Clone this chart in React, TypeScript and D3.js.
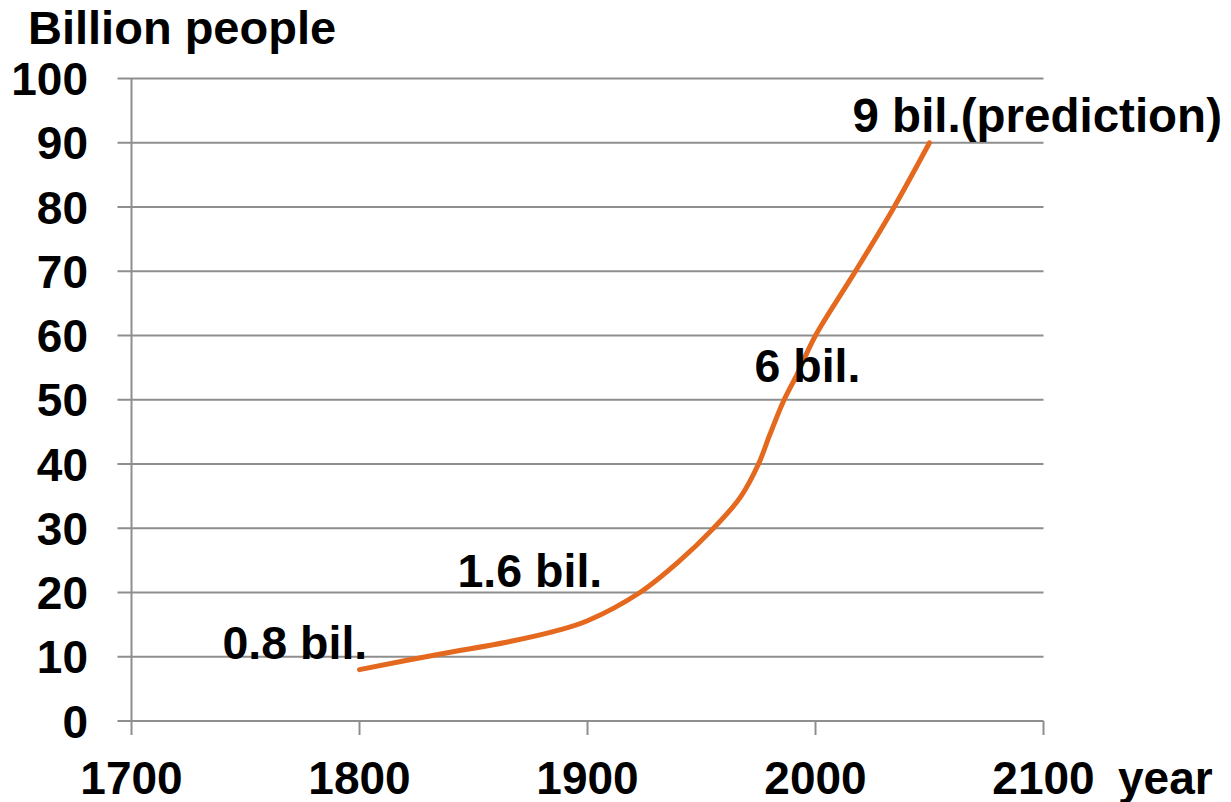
import React from "react";
import * as d3 from "d3";

// World population over time (axis units: 100 million people)
const years: number[] = [1800, 1835, 1865, 1887, 1900, 1923, 1940, 1955, 1967, 1975, 1980, 1986, 1992, 2000, 2017, 2034, 2050];
const population: number[] = [8, 10.4, 12.3, 14.1, 15.6, 20, 24.8, 29.9, 34.8, 40, 44.6, 49.8, 54, 60, 69.7, 79.7, 90];

const xTicks: number[] = [1700, 1800, 1900, 2000, 2100];
const yTicks: number[] = [0, 10, 20, 30, 40, 50, 60, 70, 80, 90, 100];

const annotations: { text: string; year: number; value: number }[] = [
  { text: "0.8 bil.", year: 1800, value: 8 },
  { text: "1.6 bil.", year: 1900, value: 16 },
  { text: "6 bil.", year: 2000, value: 60 },
  { text: "9 bil.(prediction)", year: 2050, value: 90 },
];

const W = 1231;
const H = 802;
const left = 131.5;
const right = 1043.5;
const top = 78.5;
const bottom = 721;

const FONT = "'Liberation Sans', Arial, Helvetica, sans-serif";
const GRID = "#8e8e8e";
const LINE = "#E4691E";

export default function App() {
  const x = d3.scaleLinear().domain([1700, 2100]).range([left, right]);
  const y = d3.scaleLinear().domain([0, 100]).range([bottom, top]);

  const pts: [number, number][] = years.map((yr, i) => [yr, population[i]]);
  const line = d3
    .line<[number, number]>()
    .x((d) => x(d[0]))
    .y((d) => y(d[1]))
    .curve(d3.curveCatmullRom.alpha(0.5));

  // label placement offsets relative to the annotated point
  const labelPos: Record<string, { dx: number; dy: number; size: number }> = {
    "0.8 bil.": { dx: -137, dy: -11, size: 46.5 },
    "1.6 bil.": { dx: -130, dy: -31, size: 46.5 },
    "6 bil.": { dx: -61, dy: 46, size: 46.5 },
    "9 bil.(prediction)": { dx: -77, dy: -11, size: 47.5 },
  };

  return (
    <svg
      width={W}
      height={H}
      viewBox={`0 0 ${W} ${H}`}
      style={{ position: "absolute", left: 0, top: 0, background: "#fff" }}
    >
      <rect x={0} y={0} width={W} height={H} fill="#fff" />
      <g fontFamily={FONT} fontWeight="bold" fill="#000">
        {/* horizontal gridlines */}
        {yTicks.map((t) => (
          <line
            key={"g" + t}
            x1={left - 14}
            x2={right}
            y1={y(t)}
            y2={y(t)}
            stroke={GRID}
            strokeWidth={2}
          />
        ))}
        {/* y axis line */}
        <line x1={left} x2={left} y1={top} y2={bottom + 14} stroke={GRID} strokeWidth={2} />
        {/* x tick marks */}
        {xTicks.slice(1).map((t) => (
          <line key={"xt" + t} x1={x(t)} x2={x(t)} y1={bottom} y2={bottom + 14} stroke={GRID} strokeWidth={2} />
        ))}

        {/* y tick labels */}
        {yTicks.map((t) => (
          <text key={"yl" + t} x={88} y={y(t) + 16.5} textAnchor="end" fontSize={46}>
            {t}
          </text>
        ))}
        {/* x tick labels */}
        {xTicks.map((t) => (
          <text key={"xl" + t} x={x(t)} y={793.5} textAnchor="middle" fontSize={46}>
            {t}
          </text>
        ))}

        <text x={28} y={44} fontSize={47}>
          Billion people
        </text>
        <text x={1118} y={793.5} fontSize={46}>
          year
        </text>

        <path d={line(pts) ?? ""} fill="none" stroke={LINE} strokeWidth={5} strokeLinecap="round" strokeLinejoin="round" />

        {annotations.map((a) => (
          <text
            key={a.text}
            x={x(a.year) + labelPos[a.text].dx}
            y={y(a.value) + labelPos[a.text].dy}
            fontSize={labelPos[a.text].size}
          >
            {a.text}
          </text>
        ))}
      </g>
    </svg>
  );
}
